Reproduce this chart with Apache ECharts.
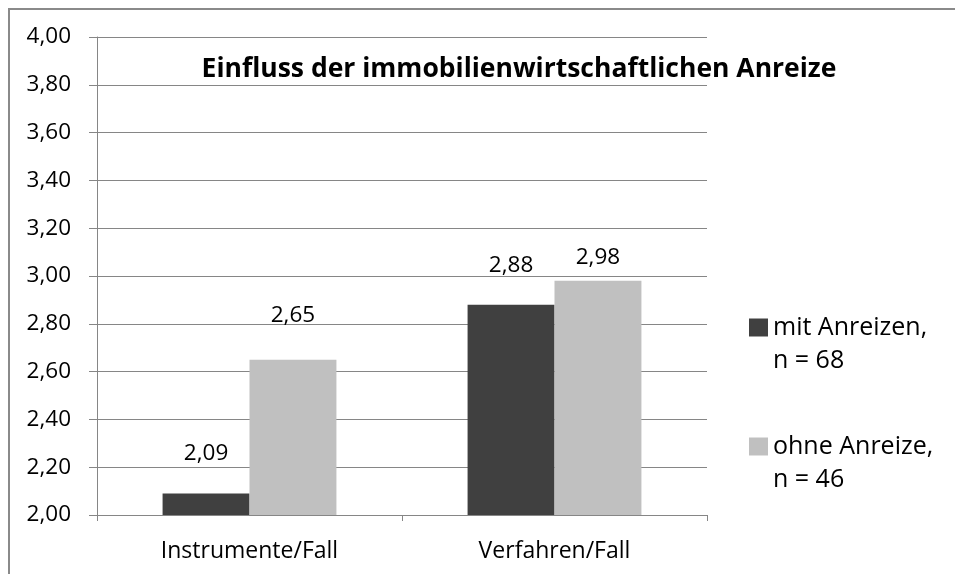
<!DOCTYPE html>
<html><head><meta charset="utf-8">
<script src="https://cdn.jsdelivr.net/npm/echarts@6/dist/echarts.min.js"></script>
<style>html,body{margin:0;padding:0;background:#fff}#c{width:955px;height:574px}</style>
</head><body><div id="c"></div>
<script>
const categories = ['Instrumente/Fall', 'Verfahren/Fall'];
const seriesNames = ['mit Anreizen,\nn = 68', 'ohne Anreize,\nn = 46'];
const mitAnreizen = [2.09, 2.88];
const ohneAnreize = [2.65, 2.98];
const titleText = 'Einfluss der immobilienwirtschaftlichen Anreize';

const FONT = 'Open Sans';
const fmt = v => v.toFixed(2).replace('.', ',');
const chart = echarts.init(document.getElementById('c'));
const labelBase = {show: true, position: 'top', color: '#000', fontFamily: FONT, fontSize: 22.5,
  formatter: p => fmt(p.value)};
chart.setOption({
  animation: false,
  backgroundColor: '#fff',
  textStyle: {fontFamily: FONT},
  graphic: [{type: 'rect', shape: {x: 9, y: 9, width: 1200, height: 1200},
    style: {fill: 'none', stroke: '#8a8a8a', lineWidth: 2}, z: -1}],
  title: {text: titleText, left: 514, top: 51, textAlign: 'center',
    textStyle: {fontFamily: FONT, fontWeight: 'bold', fontSize: 26.5, color: '#000'}},
  grid: {left: 97, right: 248, top: 37, bottom: 59},
  legend: {orient: 'vertical', left: 744, top: 273, itemWidth: 19, itemHeight: 18, itemGap: 20,
    icon: 'rect', data: seriesNames,
    formatter: n => '\n' + n,
    textStyle: {fontFamily: FONT, fontSize: 25, lineHeight: 33, color: '#000', padding: [0, 0, 0, 0]}},
  xAxis: {type: 'category', data: categories,
    axisLine: {lineStyle: {color: '#868686', width: 1}},
    axisTick: {show: true, length: 6, alignWithLabel: false, lineStyle: {color: '#868686'}},
    axisLabel: {color: '#000', fontFamily: FONT, fontSize: 23, margin: 25}},
  yAxis: {type: 'value', min: 2, max: 4, interval: 0.2,
    axisLine: {show: true, lineStyle: {color: '#868686'}},
    axisTick: {show: true, length: 8, inside: false, lineStyle: {color: '#868686'}},
    splitLine: {lineStyle: {color: '#868686', width: 1}},
    axisLabel: {color: '#000', fontFamily: FONT, fontSize: 22.5, margin: 26, formatter: v => fmt(v)}},
  series: [
    {name: seriesNames[0], type: 'bar', data: mitAnreizen, barGap: '0%', barCategoryGap: '43%',
      itemStyle: {color: '#404040'}, label: Object.assign({}, labelBase, {distance: 28})},
    {name: seriesNames[1], type: 'bar',
      data: ohneAnreize.map((v, i) => i === 1 ? {value: v, label: {distance: 12}} : v),
      itemStyle: {color: '#c0c0c0'}, label: Object.assign({}, labelBase, {distance: 33})}
  ]
});
</script></body></html>
